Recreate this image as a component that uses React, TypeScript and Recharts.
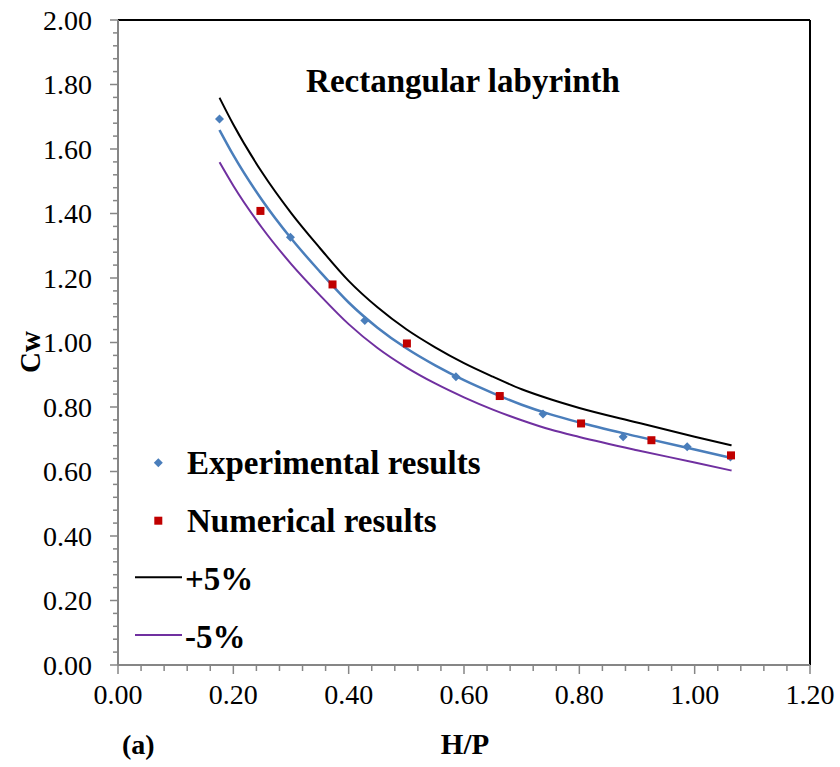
import React from 'react';
import { ComposedChart, Line, Scatter, XAxis, YAxis, ReferenceLine, Legend } from 'recharts';

// Experimental results (blue diamonds)
const expX = [0.176, 0.299, 0.428, 0.586, 0.737, 0.876, 0.987, 1.062];
const expY = [1.693, 1.326, 1.068, 0.894, 0.778, 0.708, 0.677, 0.645];
// Numerical results (red squares)
const numX = [0.247, 0.372, 0.501, 0.662, 0.803, 0.925, 1.063];
const numY = [1.408, 1.18, 0.997, 0.834, 0.749, 0.697, 0.65];
// Curves (trend line and +/- band)
const curveX = [0.176, 0.2, 0.25, 0.3, 0.35, 0.4, 0.45, 0.5, 0.55, 0.6, 0.65, 0.7, 0.75, 0.8, 0.9, 1.0, 1.064];
const fitY = [1.659, 1.581, 1.441, 1.323, 1.22, 1.124, 1.046, 0.982, 0.929, 0.883, 0.843, 0.807, 0.777, 0.752, 0.709, 0.668, 0.642];
const plusY = [1.759, 1.676, 1.527, 1.402, 1.293, 1.191, 1.109, 1.041, 0.985, 0.936, 0.894, 0.855, 0.824, 0.797, 0.752, 0.708, 0.681];
const minusY = [1.559, 1.486, 1.355, 1.244, 1.147, 1.057, 0.983, 0.923, 0.873, 0.83, 0.792, 0.759, 0.73, 0.707, 0.666, 0.628, 0.603];

const xTicks = Array.from({ length: 31 }, (_, i) => (i * 4) / 100);
const yTicks = Array.from({ length: 51 }, (_, i) => (i * 4) / 100);

const FONT = "'Liberation Serif', 'Times New Roman', serif";
const AXIS = '#868686';
const BLUE = '#4A7EBB';
const RED = '#C00000';
const PURPLE = '#7030A0';

const expData = expX.map((x, i) => ({ x, y: expY[i] }));
const numData = numX.map((x, i) => ({ x, y: numY[i] }));
const fitData = curveX.map((x, i) => ({ x, y: fitY[i] }));
const plusData = curveX.map((x, i) => ({ x, y: plusY[i] }));
const minusData = curveX.map((x, i) => ({ x, y: minusY[i] }));

const isMajor = (v: number) => Math.round(v * 100) % 20 === 0;

const XTick = (props: any) => {
  const { x, y, payload } = props;
  const v = payload.value;
  const major = isMajor(v);
  return (
    <g>
      <line x1={x} x2={x} y1={y} y2={y + (major ? 9 : 6)} stroke={AXIS} strokeWidth={1.5} />
      {major && (
        <text x={x} y={y + 39} textAnchor="middle" fontSize={28} fontFamily={FONT} fill="#000">
          {v.toFixed(2)}
        </text>
      )}
    </g>
  );
};

const YTick = (props: any) => {
  const { x, y, payload } = props;
  const v = payload.value;
  const major = isMajor(v);
  return (
    <g>
      <line x1={x} x2={x - (major ? 8 : 5)} y1={y} y2={y} stroke={AXIS} strokeWidth={1.5} />
      {major && (
        <text x={x - 26} y={y + 9.5} textAnchor="end" fontSize={28} fontFamily={FONT} fill="#000">
          {v.toFixed(2)}
        </text>
      )}
    </g>
  );
};

const Diamond = (props: any) => {
  const { cx, cy } = props;
  const r = 4.5;
  return <polygon points={`${cx},${cy - r} ${cx + r},${cy} ${cx},${cy + r} ${cx - r},${cy}`} fill={BLUE} />;
};

const Square = (props: any) => {
  const { cx, cy } = props;
  const s = 8;
  return <rect x={cx - s / 2} y={cy - s / 2} width={s} height={s} fill={RED} />;
};

const Overlay = () => (
  <svg width={840} height={767} style={{ position: 'absolute', left: 0, top: 0, pointerEvents: 'none' }}>
    <text x={463} y={92} textAnchor="middle" fontSize={33} fontWeight="bold" fontFamily={FONT} fill="#000">
      Rectangular labyrinth
    </text>
    <polygon points="158.3,458.2 162.8,462.7 158.3,467.2 153.8,462.7" fill={BLUE} />
    <text x={187} y={474} fontSize={33} fontWeight="bold" fontFamily={FONT} fill="#000">Experimental results</text>
    <rect x={154.3} y={516.7} width={8} height={8} fill={RED} />
    <text x={187} y={532} fontSize={33} fontWeight="bold" fontFamily={FONT} fill="#000">Numerical results</text>
    <line x1={135} x2={182} y1={577.3} y2={577.3} stroke="#000" strokeWidth={2} />
    <text x={185} y={590} fontSize={33} fontWeight="bold" fontFamily={FONT} fill="#000">+5%</text>
    <line x1={135} x2={182} y1={635} y2={635} stroke={PURPLE} strokeWidth={2} />
    <text x={185} y={648} fontSize={33} fontWeight="bold" fontFamily={FONT} fill="#000">-5%</text>
    <text x={122} y={754} fontSize={28} fontWeight="bold" fontFamily={FONT} fill="#000">(a)</text>
    <text x={465} y={754} textAnchor="middle" fontSize={29} fontWeight="bold" fontFamily={FONT} fill="#000">H/P</text>
    <text x={40} y={352} textAnchor="middle" transform="rotate(-90 40 352)" fontSize={29} fontWeight="bold" fontFamily={FONT} fill="#000">Cw</text>
  </svg>
);

export default function App() {
  return (
    <div style={{ position: 'absolute', left: 0, top: 0, width: 840, height: 767, background: '#fff' }}>
      <ComposedChart width={840} height={767} margin={{ top: 20, right: 30, bottom: 72, left: 58 }}>
        <XAxis
          type="number"
          dataKey="x"
          domain={[0, 1.2]}
          ticks={xTicks}
          interval={0}
          tickLine={false}
          tickSize={0}
          tickMargin={0}
          tick={<XTick />}
          height={30}
          axisLine={{ stroke: AXIS, strokeWidth: 2 }}
          allowDataOverflow
        />
        <YAxis
          type="number"
          dataKey="y"
          domain={[0, 2]}
          ticks={yTicks}
          interval={0}
          tickLine={false}
          tickSize={0}
          tickMargin={0}
          tick={<YTick />}
          width={60}
          axisLine={{ stroke: AXIS, strokeWidth: 2 }}
          allowDataOverflow
        />
        <ReferenceLine y={2} stroke="#000" strokeWidth={2} ifOverflow="visible" />
        <ReferenceLine x={1.2} stroke="#000" strokeWidth={2} ifOverflow="visible" />
        <Line data={plusData} dataKey="y" type="monotone" stroke="#000" strokeWidth={2} dot={false} isAnimationActive={false} legendType="none" />
        <Line data={minusData} dataKey="y" type="monotone" stroke={PURPLE} strokeWidth={2} dot={false} isAnimationActive={false} legendType="none" />
        <Line data={fitData} dataKey="y" type="monotone" stroke={BLUE} strokeWidth={2.5} dot={false} isAnimationActive={false} legendType="none" />
        <Scatter data={expData} dataKey="y" shape={<Diamond />} isAnimationActive={false} legendType="none" />
        <Scatter data={numData} dataKey="y" shape={<Square />} isAnimationActive={false} legendType="none" />
        <Legend
          layout="vertical"
          align="center"
          verticalAlign="middle"
          content={() => <Overlay />}
          wrapperStyle={{ position: 'absolute', left: 0, top: 0, width: 840, height: 767, pointerEvents: 'none' }}
        />
      </ComposedChart>
    </div>
  );
}
